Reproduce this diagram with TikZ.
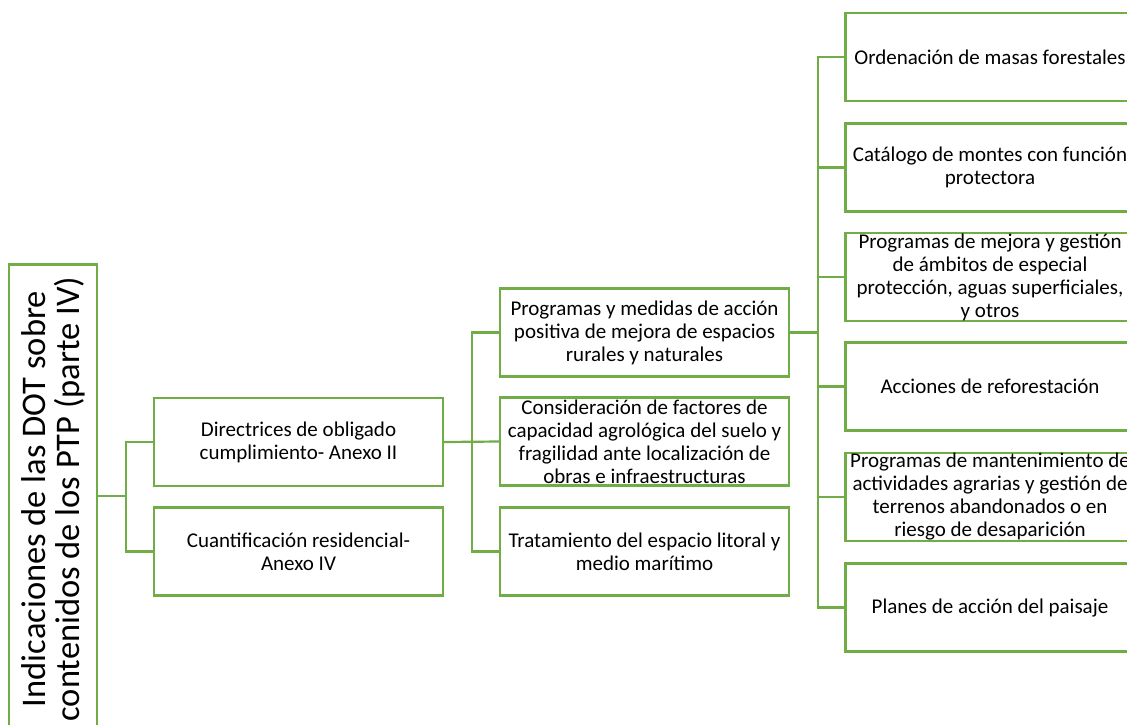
\documentclass[tikz,border=0pt]{standalone}
\usepackage{fontspec}
\setmainfont{Carlito}
\definecolor{lgreen}{HTML}{70AD47}
\tikzset{
  boxnode/.style={draw=lgreen, line width=2.2pt, minimum width=289pt, minimum height=88pt,
    inner sep=0pt, align=center, font=\fontsize{21}{23}\selectfont, text=black},
  rootnode/.style={draw=lgreen, line width=2.2pt, minimum width=475pt, minimum height=88pt,
    inner sep=0pt, align=center, font=\fontsize{34.5}{34}\selectfont, rotate=90},
  link/.style={draw=lgreen, line width=2.2pt}
}
\begin{document}
\begin{tikzpicture}[x=1pt,y=-1pt]
\useasboundingbox (0,0) rectangle (1127,724);
\clip (0,0) rectangle (1127,724);
\fill[white] (0,0) rectangle (1127,724);
\node[rootnode] (root) at (53,502) {};
\node[rotate=90, align=center, inner sep=0pt, font=\fontsize{34.5}{34}\selectfont] (roottext) at (53,499) {Indicaciones de las DOT sobre\\contenidos de los PTP (parte IV)};
\node[boxnode] (dir) at (298.5,442) {Directrices de obligado\\cumplimiento- Anexo II};
\node[boxnode] (cuan) at (298.5,551.5) {Cuantificación residencial-\\Anexo IV};
\node[boxnode] (pa) at (644.5,332.5) {Programas y medidas de acción\\positiva de mejora de espacios\\rurales y naturales};
\node[boxnode] (pb) at (644.5,441.5) {Consideración de factores de\\capacidad agrológica del suelo y\\fragilidad ante localización de\\obras e infraestructuras};
\node[boxnode] (pc) at (644.5,551.5) {Tratamiento del espacio litoral y\\medio marítimo};
\node[boxnode] (q1) at (990,57) {Ordenación de masas forestales};
\node[boxnode] (q2) at (990,167.5) {Catálogo de montes con función\\protectora};
\node[boxnode] (q3) at (990,277) {Programas de mejora y gestión\\de ámbitos de especial\\protección, aguas superficiales,\\y otros};
\node[boxnode] (q4) at (990,386.5) {Acciones de reforestación};
\node[boxnode] (q5) at (990,497) {Programas de mantenimiento de\\actividades agrarias y gestión de\\terrenos abandonados o en\\riesgo de desaparición};
\node[boxnode] (q6) at (990,607.5) {Planes de acción del paisaje};
\coordinate (j1) at (126,496);
\coordinate (j2) at (472,0);
\coordinate (j3) at (818,0);
\draw[link] (root.south |- j1) -- (j1);
\draw[link] (dir.west) -| (j1 |- cuan.west) -- (cuan.west);
\draw[link] (dir.east) -- (pb.west);
\draw[link] (pa.west) -| (j2 |- pc.west) -- (pc.west);
\draw[link] (pa.east) -- (pa.east -| j3);
\draw[link] (q1.west) -| (j3 |- q6.west) -- (q6.west);
\draw[link] (j3 |- q2.west) -- (q2.west);
\draw[link] (j3 |- q3.west) -- (q3.west);
\draw[link] (j3 |- q4.west) -- (q4.west);
\draw[link] (j3 |- q5.west) -- (q5.west);
\end{tikzpicture}
\end{document}
